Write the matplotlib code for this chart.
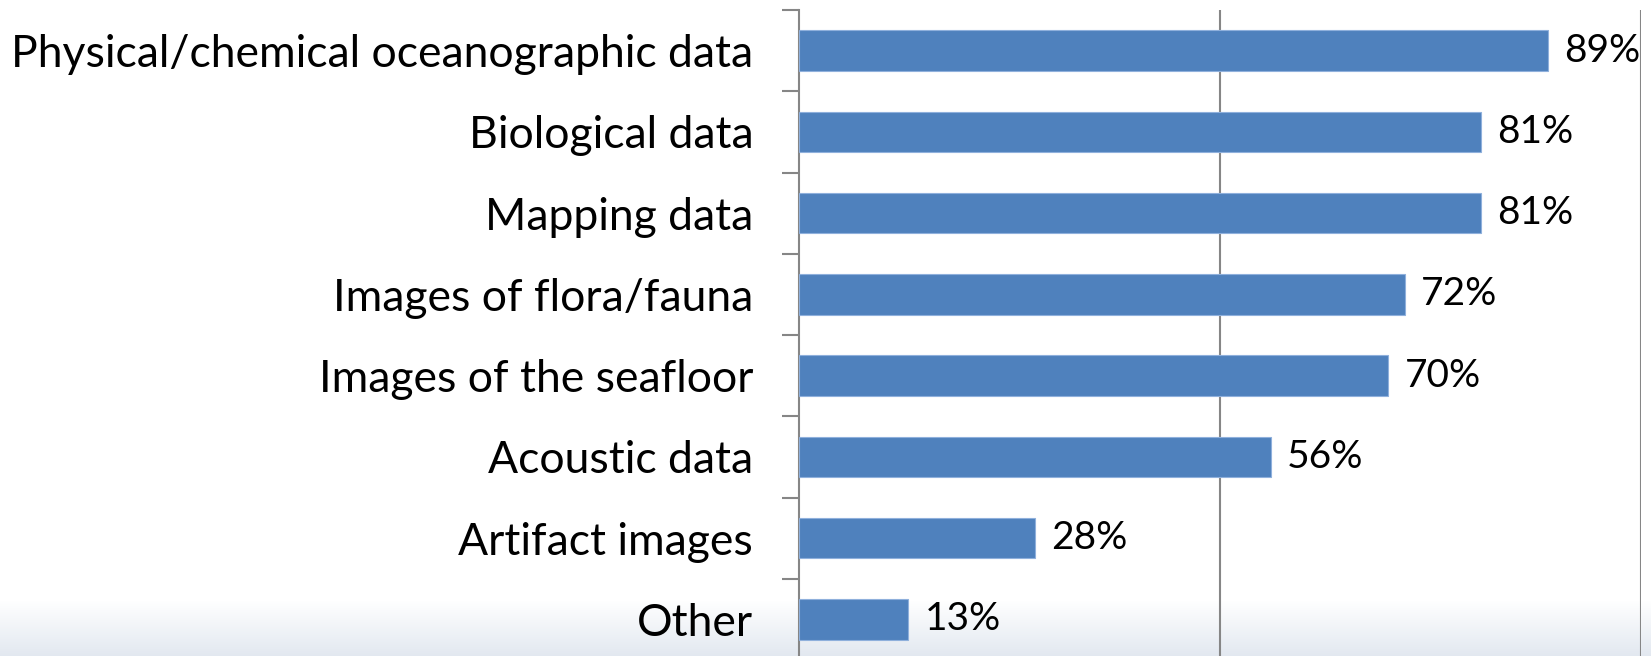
import numpy as np
import matplotlib.pyplot as plt
from matplotlib.colors import LinearSegmentedColormap

categories = [
    "Physical/chemical oceanographic data",
    "Biological data",
    "Mapping data",
    "Images of flora/fauna",
    "Images of the seafloor",
    "Acoustic data",
    "Artifact images",
    "Other",
]
values = [89, 81, 81, 72, 70, 56, 28, 13]

plt.rcParams['font.family'] = ['Lato', 'DejaVu Sans']

W, H = 1651, 656
fig = plt.figure(figsize=(W / 100, H / 100), dpi=100)

# soft bluish gradient at the bottom of the slide
bg = fig.add_axes([0, 0, 1, 1], zorder=0)
bg.axis('off')
rows = np.arange(H).reshape(-1, 1)
ramp = np.clip((rows - 600) / (H - 600), 0, 1)  # row 0 = top
cmap = LinearSegmentedColormap.from_list('bg', ['#ffffff', '#e2e8f0'])
bg.imshow(ramp, aspect='auto', cmap=cmap, extent=[0, 1, 0, 1], vmin=0, vmax=1, origin='upper')
bg.set_xlim(0, 1)
bg.set_ylim(0, 1)

ax = fig.add_axes([799 / W, 1 - 660 / H, 842 / W, 650 / H], zorder=1)
ax.patch.set_alpha(0)

y = np.arange(len(categories))
ax.barh(y, values, height=0.5, color='#4f81bd', edgecolor='#8fb0dc', linewidth=0.8, zorder=3)

for yi, v in zip(y, values):
    ax.text(v + 1.9, yi, f"{v}%", va='center', ha='left', fontsize=28, color='black')

ax.set_xlim(0, 100)
ax.set_ylim(len(categories) - 0.5, -0.5)

for x in (50, 100):
    ax.axvline(x, color='#868686', lw=1.5, zorder=1)

for s in ('top', 'right', 'bottom'):
    ax.spines[s].set_visible(False)
ax.spines['left'].set_color('#868686')
ax.spines['left'].set_linewidth(1.5)

ax.set_xticks([])
ax.set_yticks(np.arange(len(categories) + 1) - 0.5)
ax.set_yticklabels([])
ax.set_yticks(y, minor=True)
ax.set_yticklabels(categories, minor=True, fontsize=32)
ax.tick_params(axis='y', which='major', length=12, width=1.5, color='#868686', direction='out')
ax.tick_params(axis='y', which='minor', length=0, pad=33)

fig.savefig('out.png', dpi=100)
